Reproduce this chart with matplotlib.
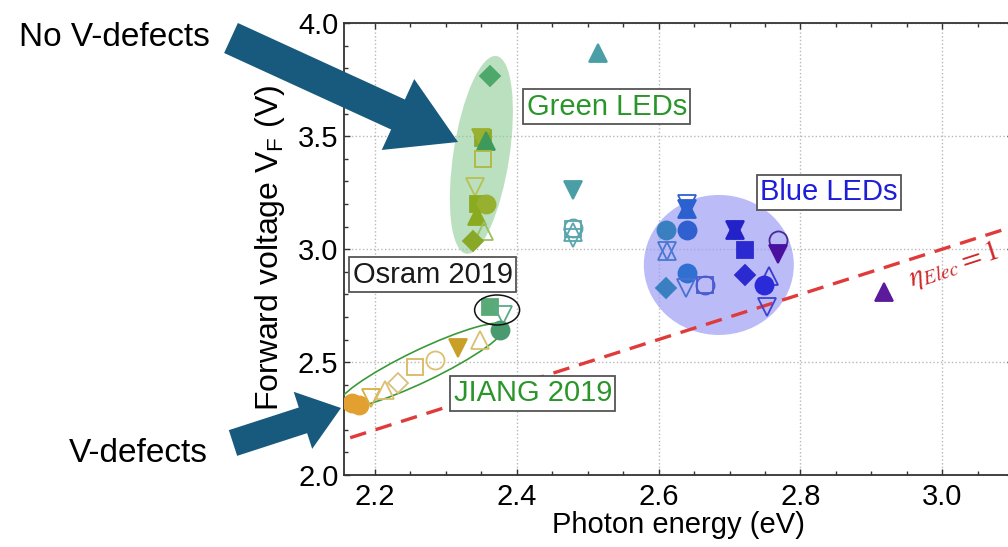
import matplotlib
matplotlib.use("Agg")
import matplotlib.pyplot as plt
from matplotlib.patches import Ellipse, FancyArrow
from matplotlib.transforms import ScaledTranslation, IdentityTransform
from matplotlib.ticker import MultipleLocator

plt.rcParams['font.family'] = ['Liberation Sans', 'DejaVu Sans']

# Photon energy (eV), forward voltage (V), marker, colour, filled?
green_E = [2.362, 2.352, 2.350, 2.357, 2.352, 2.341, 2.345, 2.357, 2.344, 2.354, 2.338]
green_V = [3.765, 3.49, 3.49, 3.48, 3.40, 3.275, 3.20, 3.20, 3.145, 3.08, 3.035]
green_mk = ['D', 's', 'v', '^', 's', 'v', 's', 'o', '^', '^', 'D']
green_col = ['#4ea86c', '#8aaa2a', '#9ab030', '#3e9a5a', '#b0b840', '#b8c050',
             '#8aaa20', '#98b030', '#8aaa20', '#9ac060', '#8aa828']
green_fill = [1, 1, 1, 1, 0, 0, 1, 1, 1, 0, 1]

teal_E = [2.514, 2.479, 2.479, 2.479, 2.479, 2.479]
teal_V = [3.868, 3.262, 3.095, 3.090, 3.075, 3.05]
teal_mk = ['^', 'v', 'o', 's', '^', 'v']
teal_col = ['#4a9ea6', '#4a9ea6', '#5aa6ae', '#5aa6ae', '#5aa6ae', '#5aa6ae']
teal_fill = [1, 1, 0, 0, 0, 0]

blue_E = [2.640, 2.640, 2.640, 2.610, 2.640, 2.612, 2.612, 2.640, 2.610, 2.638,
          2.665, 2.665, 2.708, 2.708, 2.722, 2.769, 2.769, 2.722, 2.755, 2.748, 2.753]
blue_V = [3.18, 3.18, 3.20, 3.085, 3.085, 2.99, 2.99, 2.893, 2.827, 2.83,
          2.84, 2.84, 3.085, 3.085, 2.996, 3.04, 2.98, 2.886, 2.88, 2.841, 2.745]
blue_mk = ['^', 'v', 'v', 'o', 'o', '^', 'v', 'o', 'D', 'v',
           'o', 's', '^', 'v', 's', 'o', 'v', 'D', '^', 'o', 'v']
blue_col = ['#2a60d0', '#2a60d0', '#3060d0', '#3a80c0', '#3060d0', '#4a78d0', '#4a78d0',
            '#3070d0', '#3a80c0', '#4a70d0', '#4a5ad0', '#4a5ad0', '#2222c8', '#2222c8',
            '#2a2ad0', '#4a2a9a', '#4a10a0', '#2a2ad0', '#3a3ad0', '#2a2ad8', '#4040d0']
blue_fill = [1, 1, 0, 1, 1, 0, 0, 1, 1, 0, 0, 0, 1, 1, 1, 0, 1, 1, 0, 1, 0]

violet_E = [2.918]
violet_V = [2.812]
violet_mk = ['^']
violet_col = ['#5a1a9a']
violet_fill = [1]

osram_E = [2.362, 2.381, 2.376]
osram_V = [2.745, 2.709, 2.642]
osram_mk = ['s', 'v', 'o']
osram_col = ['#5aaa78', '#5aaa88', '#4a9a70']
osram_fill = [1, 0, 1]

jiang_E = [2.167, 2.177, 2.195, 2.214, 2.233, 2.256, 2.284, 2.317, 2.348]
jiang_V = [2.32, 2.312, 2.34, 2.376, 2.406, 2.48, 2.509, 2.561, 2.598]
jiang_mk = ['o', 'o', 'v', '^', 'D', 's', 'o', 'v', '^']
jiang_col = ['#e2a030', '#e2a030', '#d8b040', '#dcc070', '#d8c080', '#d8b860',
             '#dcc070', '#c8a028', '#d8c070']
jiang_fill = [1, 1, 0, 0, 0, 0, 0, 1, 0]

# eta_Elec = 1 reference: V_F = h*nu/q
ideal_E = [2.165, 3.20]


def draw_points(ax, E, V, mk, col, fill):
    sizes = {'o': 13, '^': 13, 'v': 13, 's': 11, 'D': 10}
    for e, v, m, c, f in zip(E, V, mk, col, fill):
        ax.plot(e, v, ls='none', marker=m, ms=sizes[m], color=c,
                mfc=c if f else 'none', mec=c, mew=1.3, zorder=5)


def pixel_ellipse(ax, center, w, h, angle, **kw):
    # ellipse sized in screen pixels, anchored at a data point
    el = Ellipse((0, 0), w, h, angle=angle,
                 transform=ScaledTranslation(center[0], center[1], ax.transData), **kw)
    ax.add_patch(el)
    return el


fig = plt.figure(figsize=(10.08, 5.47), dpi=100)
ax = fig.add_axes([0.3413, 0.1316, 0.6638, 0.8258])

ax.set_xlim(2.1563, 3.1)
ax.set_ylim(2.0, 4.0)
ax.xaxis.set_major_locator(MultipleLocator(0.2))
ax.xaxis.set_minor_locator(MultipleLocator(0.05))
ax.yaxis.set_major_locator(MultipleLocator(0.5))
ax.yaxis.set_minor_locator(MultipleLocator(0.1))
ax.tick_params(which='both', direction='in', top=True, right=True, width=1.0, color='#333333')
ax.tick_params(which='major', length=4.5, labelsize=21, pad=6)
ax.tick_params(axis='y', which='major', pad=4)
ax.tick_params(which='minor', length=3)
ax.grid(True, which='major', ls=':', color='#b8b8b8', lw=1.0)
ax.set_axisbelow(True)
for s in ax.spines.values():
    s.set_color('#333333')
    s.set_linewidth(1.3)

ax.set_xlabel('Photon energy (eV)', fontsize=21, labelpad=0)
ax.set_ylabel(r'Forward voltage V$_\mathregular{F}$ (V)', fontsize=23)
ax.yaxis.set_label_coords(-0.085, 0.503)

# shaded groupings
pixel_ellipse(ax, (2.350, 3.4175), 200, 56, 81.3, fc='#8fcc95', ec='none', alpha=0.6, zorder=1)
pixel_ellipse(ax, (2.6849, 2.930), 150, 140, 0, fc='#9e9ef5', ec='none', alpha=0.7, zorder=1)
pixel_ellipse(ax, (2.2656, 2.4836), 186, 32, 25.6, fc='none', ec='#3a9a3a', lw=1.2, zorder=3)
pixel_ellipse(ax, (2.3722, 2.7307), 45, 30, 0, fc='none', ec='#111111', lw=1.1, zorder=6)

ax.plot(ideal_E, ideal_E, ls=(0, (5, 3)), color='#e03a3a', lw=2.4, zorder=4)
ax.text(2.957, 2.835, r'$\eta_{Elec}=1$', color='#d02828', fontsize=21,
        rotation=18, rotation_mode='anchor', ha='left', va='baseline',
        math_fontfamily='stix', zorder=6)

draw_points(ax, green_E, green_V, green_mk, green_col, green_fill)
draw_points(ax, teal_E, teal_V, teal_mk, teal_col, teal_fill)
draw_points(ax, blue_E, blue_V, blue_mk, blue_col, blue_fill)
draw_points(ax, violet_E, violet_V, violet_mk, violet_col, violet_fill)
draw_points(ax, osram_E, osram_V, osram_mk, osram_col, osram_fill)
draw_points(ax, jiang_E, jiang_V, jiang_mk, jiang_col, jiang_fill)

box = dict(boxstyle='square,pad=0.12', fc='white', ec='#555555', lw=1.3)
ax.text(2.527, 3.630, 'Green LEDs', color='#2a962a', fontsize=21, ha='center', va='center', bbox=box, zorder=7)
ax.text(2.840, 3.253, 'Blue LEDs', color='#1e1ed8', fontsize=21, ha='center', va='center', bbox=box, zorder=7)
ax.text(2.2815, 2.886, 'Osram 2019', color='#1a1a1a', fontsize=21, ha='center', va='center', bbox=box, zorder=7)
ax.text(2.4225, 2.363, 'JIANG 2019', color='#2a962a', fontsize=21, ha='center', va='center', bbox=box, zorder=7)

# call-out arrows (screen pixels, origin bottom-left)
arrow_col = '#185a7d'
fig.add_artist(FancyArrow(231, 509, 227, -104, width=33, head_width=78, head_length=66,
                          length_includes_head=True, color=arrow_col, lw=0,
                          transform=IdentityTransform()))
fig.add_artist(FancyArrow(233, 104, 108, 35, width=27, head_width=60, head_length=40,
                          length_includes_head=True, color=arrow_col, lw=0,
                          transform=IdentityTransform()))
fig.text(210 / 1008, 1 - 38 / 547, 'No V-defects', fontsize=24, ha='right', va='center')
fig.text(208 / 1008, 1 - 454 / 547, 'V-defects', fontsize=24, ha='right', va='center')

fig.savefig('out.png', dpi=100)
